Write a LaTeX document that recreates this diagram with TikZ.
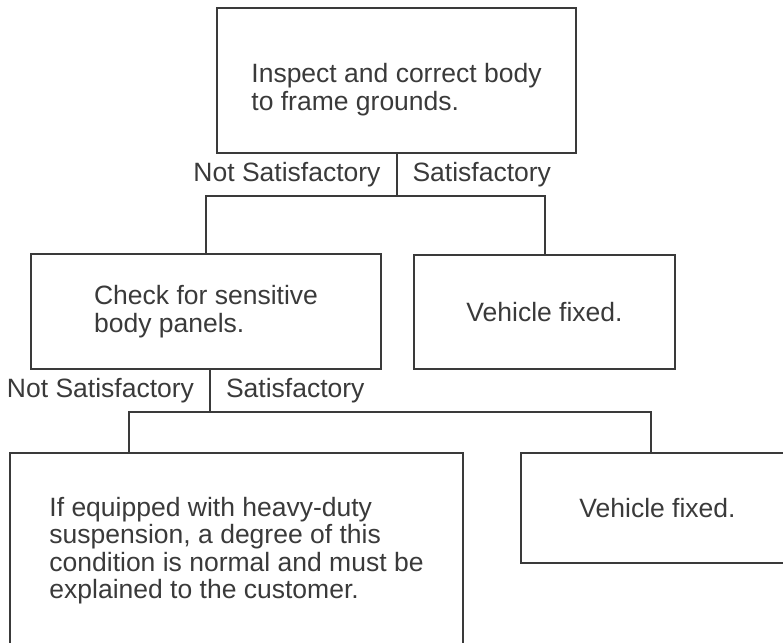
\documentclass[tikz,border=0pt]{standalone}
\usepackage{fontspec}
\setmainfont{Liberation Sans}

\definecolor{ink}{HTML}{3A3A3A}

\begin{document}
\begin{tikzpicture}[
    x=1pt, y=-1pt,
    font=\fontsize{26.5}{27.5}\selectfont,
    box/.style={
        draw=ink,
        line width=2pt,
        text=ink,
        align=left,
        inner sep=0pt
    },
    wire/.style={
        draw=ink,
        line width=2pt
    },
    answer/.style={
        text=ink,
        inner xsep=15pt,
        inner ysep=0pt
    }
]

\clip (0,0) rectangle (783,642);

% the strut pushes the two lines a little lower in the box
\node[box, minimum width=359pt, minimum height=145pt] (inspect) at (396.5,80.5)
{\rule{0pt}{37pt}Inspect and correct body\\to frame grounds.};

\node[box, minimum width=350pt, minimum height=115pt] (check) at (206,311.5)
{Check for sensitive\\body panels.};

\node[box, minimum width=261pt, minimum height=114pt] (fixA) at (544.5,312)
{Vehicle fixed.};

\node[box, minimum width=453pt, minimum height=195pt] (heavy) at (236.5,550.5)
{If equipped with heavy-duty\\suspension, a degree of this\\condition is normal and must be\\explained to the customer.};

\node[box, minimum width=273pt, minimum height=110pt] (fixB) at (657.5,508)
{Vehicle fixed.};

% first decision
\draw[wire] (inspect.south) --
    node[answer, left] (nosat1) {Not Satisfactory}
    node[answer, right] (sat1) {Satisfactory}
    ++(0,42) coordinate (fork1);
\draw[wire] (check.north) |- (fork1) -| (fixA.north);

% second decision
\draw[wire] ([xshift=4pt]check.south) --
    node[answer, left] (nosat2) {Not Satisfactory}
    node[answer, right] (sat2) {Satisfactory}
    ++(0,42) coordinate (fork2);
\draw[wire] ([xshift=-108pt]heavy.north) |- (fork2) -| ([xshift=-7pt]fixB.north);

\end{tikzpicture}
\end{document}
